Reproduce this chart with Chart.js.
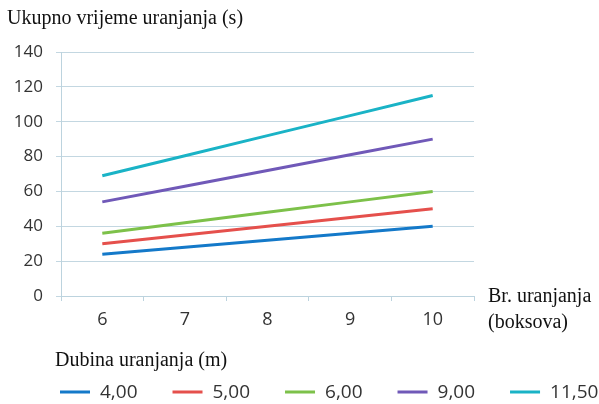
<!DOCTYPE html>
<html>
<head>
<meta charset="utf-8">
<script src="https://cdn.jsdelivr.net/npm/chart.js@4/dist/chart.umd.min.js"></script>
<style>
  html, body { margin: 0; padding: 0; background: #ffffff; }
  #wrap { position: relative; width: 599px; height: 404px; }
</style>
</head>
<body>
<div id="wrap"><canvas id="c" width="599" height="404"></canvas></div>
<script>
// ---- data ----
const categories = ['6', '7', '8', '9', '10'];
const seriesLabels = ['4,00', '5,00', '6,00', '9,00', '11,50'];
const series400 = [24, 28, 32, 36, 40];
const series500 = [30, 35, 40, 45, 50];
const series600 = [36, 42, 48, 54, 60];
const series900 = [54, 63, 72, 81, 90];
const series1150 = [69, 80.5, 92, 103.5, 115];
const yTicks = [0, 20, 40, 60, 80, 100, 120, 140];
const titleY = 'Ukupno vrijeme uranjanja (s)';
const titleX = ['Br. uranjanja', '(boksova)'];
const legendTitle = 'Dubina uranjanja (m)';

const seriesValues = [series400, series500, series600, series900, series1150];
const colors = ['#1479c9', '#e5504c', '#7dc14a', '#7059b8', '#1ab3c6'];

const tickFont = "'Open Sans', 'Lato', sans-serif";
const serif = "'Liberation Serif', 'DejaVu Serif', serif";

const overlay = {
  id: 'overlay',
  afterDraw(chart) {
    const ctx = chart.ctx;
    ctx.save();
    ctx.fillStyle = '#111';
    ctx.textBaseline = 'alphabetic';
    ctx.textAlign = 'left';
    ctx.font = '20px ' + serif;
    ctx.fillText(titleY, 7, 24);
    ctx.fillText(titleX[0], 488, 302);
    ctx.fillText(titleX[1], 488, 328);
    ctx.fillText(legendTitle, 55, 366);

    // legend
    let x = 60;
    const yc = 392;
    ctx.font = '19px ' + tickFont;
    ctx.textBaseline = 'middle';
    chart.data.datasets.forEach((ds) => {
      ctx.fillStyle = ds.borderColor;
      ctx.fillRect(x, yc - 1.5, 30, 3);
      ctx.fillStyle = '#333';
      const tx = x + 40;
      ctx.fillText(ds.label, tx, yc + 1);
      x = tx + ctx.measureText(ds.label).width + 35;
    });
    ctx.restore();
  }
};

new Chart(document.getElementById('c'), {
  type: 'line',
  data: {
    labels: categories,
    datasets: seriesLabels.map((lab, i) => ({
      label: lab,
      data: seriesValues[i],
      borderColor: colors[i],
      backgroundColor: colors[i],
      borderWidth: 3,
      pointRadius: 0,
      tension: 0,
      fill: false
    }))
  },
  options: {
    responsive: false,
    animation: false,
    devicePixelRatio: 1,
    layout: { padding: { top: 52, right: 125, bottom: 52, left: 0 } },
    plugins: {
      legend: { display: false },
      tooltip: { enabled: false },
      title: { display: false }
    },
    scales: {
      x: {
        offset: true,
        grid: {
          offset: true,
          drawOnChartArea: false,
          drawTicks: true,
          tickLength: 5,
          color: '#bcd3de'
        },
        border: { display: true, color: '#bcd3de', width: 1 },
        ticks: {
          padding: 8,
          color: '#333',
          font: { family: tickFont, size: 18 }
        },
        afterFit(scale) { scale.height = 56; }
      },
      y: {
        min: 0,
        max: 140,
        afterBuildTicks(scale) { scale.ticks = yTicks.map(v => ({ value: v })); },
        grid: {
          color: '#c3d7e1',
          tickLength: 5,
          lineWidth: 1
        },
        border: { display: true, color: '#bcd3de', width: 1 },
        ticks: {
          padding: 13,
          color: '#333',
          font: { family: tickFont, size: 17 }
        },
        afterFit(scale) { scale.width = 61; }
      }
    }
  },
  plugins: [overlay]
});
</script>
</body>
</html>
